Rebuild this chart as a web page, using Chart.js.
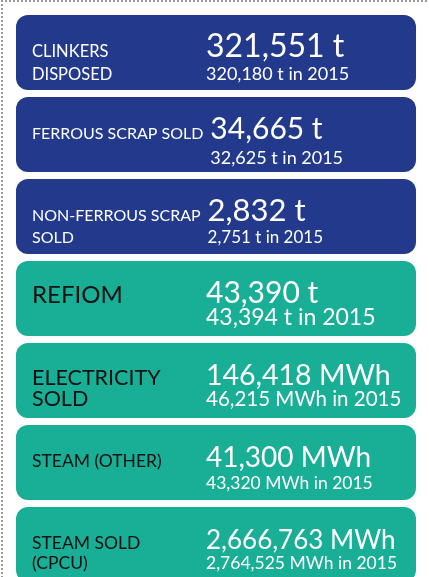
<!DOCTYPE html>
<html>
<head>
<meta charset="utf-8">
<script src="https://cdn.jsdelivr.net/npm/chart.js@4.4.1/dist/chart.umd.min.js"></script>
<style>
    html, body { margin: 0; padding: 0; background: #fff; overflow: hidden; }
    #wrap { position: relative; width: 429px; height: 577px; overflow: hidden; }
    #frame {
        position: absolute; left: 1px; top: 0; width: 424px; height: 600px;
        border-left: 2px dotted #9a9a9a; border-top: 2px dotted #9a9a9a;
        pointer-events: none;
    }
    canvas { position: absolute; left: 0; top: 0; }
</style>
</head>
<body>
<div id="wrap">
    <canvas id="chart" width="429" height="600"></canvas>
    <div id="frame"></div>
</div>
<script>
// Data
const labels = [
    ['CLINKERS', 'DISPOSED'],
    ['FERROUS SCRAP SOLD'],
    ['NON-FERROUS SCRAP', 'SOLD'],
    ['REFIOM'],
    ['ELECTRICITY', 'SOLD'],
    ['STEAM (OTHER)'],
    ['STEAM SOLD', '(CPCU)']
];
const values2016 = [321551, 34665, 2832, 43390, 146418, 41300, 2666763];
const values2015 = [320180, 32625, 2751, 43394, 46215, 43320, 2764525];
const units = ['t', 't', 't', 't', 'MWh', 'MWh', 'MWh'];
const groups = ['residue', 'residue', 'residue', 'energy', 'energy', 'energy', 'energy'];
const prevYear = '2015';

// Styles
const groupColor = { residue: '#22398c', energy: '#19ae96' };
const groupText = { residue: '#ffffff', energy: '#111111' };
const labelSize = [16.5, 16, 16, 24, 21.5, 17.5, 17.5];
const bigSize = [32, 30, 31, 30, 28.5, 28, 26];
const subSize = [18, 18, 17, 23, 20.5, 17.5, 17.5];
const subGap = [23, 25, 22, 22, 21, 22, 20];
const FONT = 'Lato, "Noto Sans", sans-serif';

const fmt = n => n.toLocaleString('en-US');

const textPlugin = {
    id: 'boxText',
    afterDatasetsDraw(chart) {
        const ctx = chart.ctx;
        const yScale = chart.scales.y;
        const left = chart.chartArea.left;
        ctx.save();
        ctx.textBaseline = 'alphabetic';
        ctx.textAlign = 'left';
        labels.forEach((lines, i) => {
            const c = yScale.getPixelForValue(i);
            const base = c + 4;
            const sub = base + subGap[i];
            const lx = left + 16;

            // label
            ctx.fillStyle = groupText[groups[i]];
            ctx.font = labelSize[i] + 'px ' + FONT;
            ctx.fillText(lines[0], lx, base);
            if (lines.length > 1) ctx.fillText(lines[1], lx, sub);
            const lw = ctx.measureText(lines[0]).width;

            // values
            const vx = Math.max(206, lx + lw + 7);
            ctx.fillStyle = '#ffffff';
            ctx.font = bigSize[i] + 'px ' + FONT;
            ctx.fillText(fmt(values2016[i]) + ' ' + units[i], vx, base);
            ctx.font = subSize[i] + 'px ' + FONT;
            ctx.fillText(fmt(values2015[i]) + ' ' + units[i] + ' in ' + prevYear, vx, sub);
        });
        ctx.restore();
    }
};

new Chart(document.getElementById('chart'), {
    type: 'bar',
    data: {
        labels: labels.map(l => l.join(' ')),
        datasets: [{
            data: values2016.map(() => 1),
            backgroundColor: groups.map(g => groupColor[g]),
            borderRadius: 12,
            borderSkipped: false,
            borderWidth: 0,
            categoryPercentage: 1,
            barPercentage: 75 / 82
        }]
    },
    options: {
        indexAxis: 'y',
        responsive: false,
        animation: false,
        layout: { padding: { left: 16, right: 13, top: 11.5, bottom: 14.5 } },
        scales: {
            x: { display: false, min: 0, max: 1 },
            y: { display: false }
        },
        plugins: {
            legend: { display: false },
            tooltip: { enabled: false }
        }
    },
    plugins: [textPlugin]
});
</script>
</body>
</html>
